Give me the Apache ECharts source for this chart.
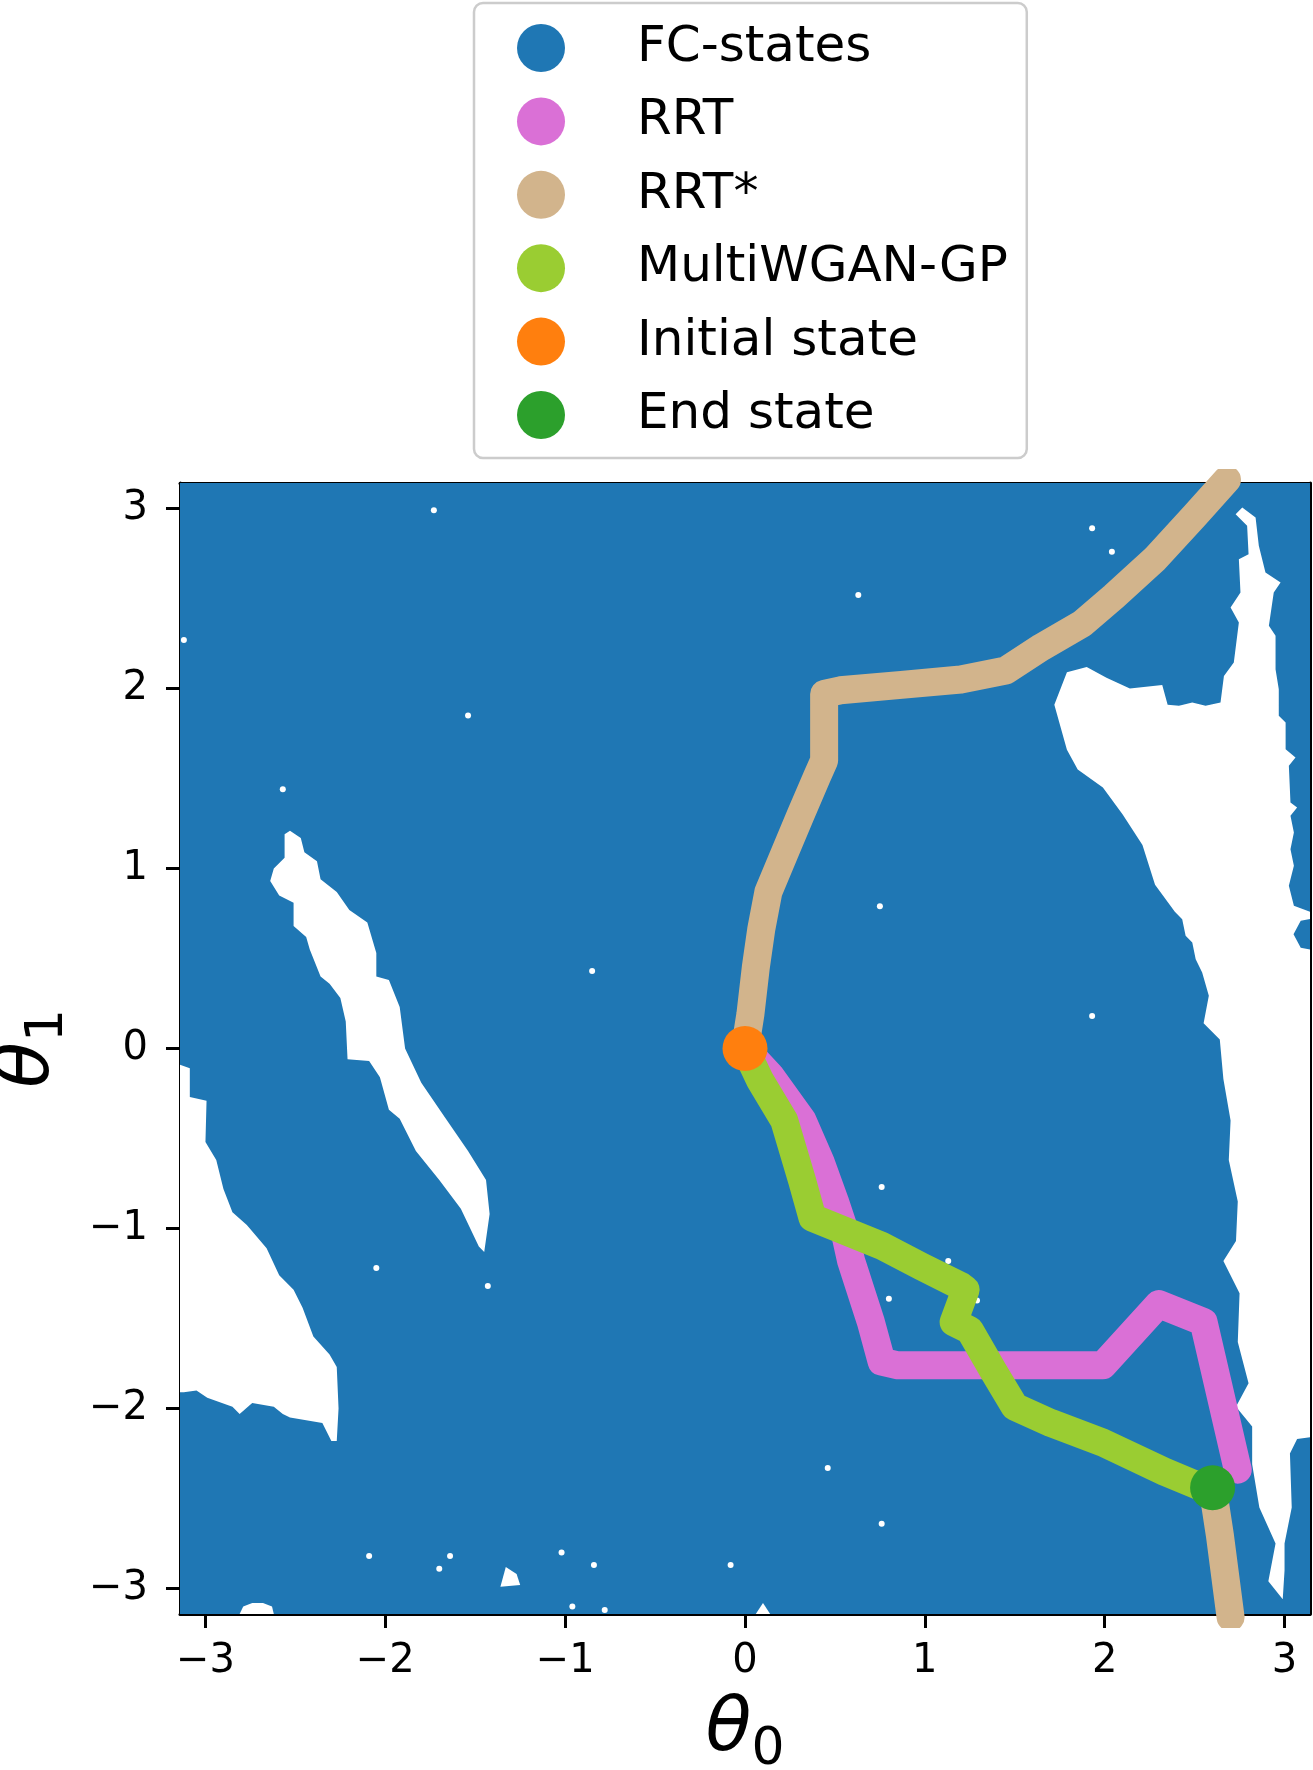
<!DOCTYPE html>
<html>
<head>
<meta charset="utf-8">
<title>FC-states and planned paths</title>
<script src="https://cdn.jsdelivr.net/npm/echarts@6/dist/echarts.min.js"></script>
<style>
  html, body { margin: 0; padding: 0; background: #fff; }
  #chart { width: 1313px; height: 1770px; }
</style>
</head>
<body>
<div id="chart"></div>
<script>
const PI = Math.PI;
const tickValues = [-3, -2, -1, 0, 1, 2, 3];

// planned paths, points are [theta0, theta1]
const rrtPath = [
  [0, 0], [0.14, -0.15], [0.32, -0.40], [0.42, -0.63], [0.50, -0.85], [0.55, -1.0],
  [0.59, -1.18], [0.70, -1.52], [0.76, -1.74], [0.85, -1.76], [1.99, -1.76],
  [2.30, -1.42], [2.55, -1.52], [2.74, -2.34]
];
const rrtStarPath = [
  [0, 0], [0.03, 0.19], [0.06, 0.45], [0.09, 0.66], [0.13, 0.87], [0.22, 1.085],
  [0.31, 1.30], [0.40, 1.51], [0.44, 1.60], [0.44, 1.97], [0.53, 1.99], [0.87, 2.02],
  [1.20, 2.05], [1.45, 2.10], [1.65, 2.23], [1.875, 2.36], [2.05, 2.51], [2.28, 2.72],
  [2.50, 2.96], [2.68, 3.16]
];
// RRT* wraps around theta1 = pi and comes in from the bottom
const rrtStarWrap = [[2.60, -2.44], [2.64, -2.70], [2.70, -3.16]];
const ganPath = [
  [0, 0], [0.083, -0.175], [0.218, -0.40], [0.318, -0.736], [0.375, -0.94],
  [0.756, -1.094], [0.98, -1.21], [1.20, -1.32], [1.227, -1.34], [1.16, -1.52],
  [1.25, -1.565], [1.38, -1.79], [1.50, -1.99], [1.70, -2.08], [1.99, -2.19],
  [2.33, -2.35], [2.595, -2.46]
];
const initialState = [[0, 0]];
const endState = [[2.6, -2.44]];

// FC-states cover the whole square except these white holes
const fcArea = [[-PI, -PI], [PI, -PI], [PI, PI], [-PI, PI]];
const holeRight = [
  [2.765, 3.006], [2.728, 2.968], [2.792, 2.904], [2.80, 2.746], [2.746, 2.718],
  [2.755, 2.533], [2.70, 2.45], [2.746, 2.367], [2.718, 2.144], [2.663, 2.07],
  [2.644, 1.922], [2.561, 1.904], [2.487, 1.922], [2.413, 1.904], [2.35, 1.91],
  [2.32, 2.02], [2.14, 2.0], [2.01, 2.06], [1.90, 2.12], [1.79, 2.09], [1.72, 1.91],
  [1.79, 1.66], [1.85, 1.55], [1.99, 1.45], [2.10, 1.30], [2.21, 1.13], [2.28, 0.91],
  [2.39, 0.76], [2.431, 0.718], [2.45, 0.626], [2.487, 0.589], [2.506, 0.496],
  [2.542, 0.422], [2.579, 0.293], [2.55, 0.14], [2.64, 0.05], [2.66, -0.17],
  [2.70, -0.40], [2.69, -0.62], [2.74, -0.85], [2.73, -1.07], [2.66, -1.18],
  [2.75, -1.36], [2.74, -1.63], [2.80, -1.86], [2.73, -1.99], [2.82, -2.10],
  [2.82, -2.31], [2.86, -2.55], [2.95, -2.75], [2.91, -2.96], [2.99, -3.06],
  [3.0, -2.9], [3.0, -2.75], [3.04, -2.55], [3.03, -2.25], [3.07, -2.17], [PI, -2.16],
  [PI, 0.55], [3.09, 0.56], [3.05, 0.635], [3.09, 0.71], [PI, 0.72], [PI, 0.76],
  [3.052, 0.793], [3.024, 0.904], [3.052, 1.015], [3.033, 1.107], [3.052, 1.20],
  [3.033, 1.293], [3.07, 1.339], [3.033, 1.367], [3.024, 1.571], [3.061, 1.617],
  [3.006, 1.663], [3.006, 1.811], [2.968, 1.848], [2.968, 1.996], [2.95, 2.107],
  [2.95, 2.293], [2.913, 2.348], [2.94, 2.533], [2.978, 2.589], [2.894, 2.644],
  [2.857, 2.793], [2.839, 2.95]
];
const holeLeft = [
  [-PI, -0.09], [-3.087, -0.11], [-3.087, -0.27], [-2.994, -0.29], [-3.0, -0.52],
  [-2.94, -0.62], [-2.90, -0.78], [-2.85, -0.91], [-2.77, -0.98], [-2.66, -1.11],
  [-2.59, -1.26], [-2.51, -1.34], [-2.46, -1.44], [-2.40, -1.60], [-2.31, -1.70],
  [-2.27, -1.77], [-2.26, -2.00], [-2.27, -2.18], [-2.30, -2.18], [-2.35, -2.08],
  [-2.53, -2.05], [-2.57, -2.03], [-2.62, -1.99], [-2.74, -1.97], [-2.81, -2.03],
  [-2.85, -1.99], [-2.99, -1.94], [-3.05, -1.90], [-3.12, -1.91], [-PI, -1.91]
];
const holeSliver = [
  [-2.53, 1.21], [-2.56, 1.19], [-2.56, 1.06], [-2.62, 1.0], [-2.64, 0.93],
  [-2.59, 0.85], [-2.51, 0.81], [-2.51, 0.68], [-2.44, 0.62], [-2.42, 0.55],
  [-2.36, 0.40], [-2.31, 0.36], [-2.25, 0.28], [-2.22, 0.15], [-2.21, -0.06],
  [-2.09, -0.07], [-2.03, -0.16], [-1.98, -0.34], [-1.92, -0.39], [-1.83, -0.57],
  [-1.70, -0.73], [-1.58, -0.89], [-1.48, -1.10], [-1.45, -1.13], [-1.42, -0.92],
  [-1.44, -0.73], [-1.54, -0.57], [-1.67, -0.38], [-1.80, -0.19], [-1.89, 0.0],
  [-1.92, 0.23], [-1.98, 0.38], [-2.05, 0.40], [-2.05, 0.53], [-2.10, 0.70],
  [-2.20, 0.77], [-2.27, 0.87], [-2.36, 0.94], [-2.38, 1.04], [-2.45, 1.09],
  [-2.47, 1.17]
];
const holeBottomLeft = [
  [-2.81, -PI], [-2.79, -3.10], [-2.74, -3.08], [-2.68, -3.08], [-2.63, -3.10], [-2.62, -PI]
];
const holeBottomMid = [[-1.33, -2.88], [-1.36, -2.99], [-1.25, -2.98], [-1.27, -2.92]];
const holeBottomRight = [[0.06, -PI], [0.10, -3.08], [0.14, -PI]];
const holes = [holeRight, holeLeft, holeSliver, holeBottomLeft, holeBottomMid, holeBottomRight];

// tiny white specks inside the FC-states cover
const specks = [
  [-2.57, 1.44], [-3.12, 2.27], [-1.73, 2.99], [-1.54, 1.85], [0.63, 2.52], [1.93, 2.89],
  [2.04, 2.76], [0.75, 0.79], [1.93, 0.18], [0.76, -0.77], [1.13, -1.18], [1.29, -1.40],
  [0.80, -1.39], [0.46, -2.33], [0.76, -2.64], [-2.05, -1.22], [-2.09, -2.82],
  [-1.64, -2.82], [-1.02, -2.80], [-0.84, -2.87], [-1.70, -2.89], [-0.08, -2.87],
  [-0.96, -3.10], [-0.78, -3.12], [-0.85, 0.43], [-1.43, -1.32]
];

const C_FC = '#1f77b4';
const C_RRT = '#da70d6';
const C_STAR = '#d2b48c';
const C_GAN = '#9acd32';
const C_INIT = '#ff7f0e';
const C_END = '#2ca02c';
const FONT = 'DejaVu Sans';

function tickText(v) {
  return v < 0 ? '\u2212' + (-v) : String(v);
}

function nameRich() {
  return {
    t: { fontSize: 75, fontStyle: 'italic', fontFamily: FONT, color: '#000', lineHeight: 90, verticalAlign: 'middle' },
    s: { fontSize: 52, fontFamily: FONT, color: '#000', lineHeight: 48, verticalAlign: 'bottom' }
  };
}

const spine = { show: true, onZero: false, lineStyle: { color: '#000', width: 3 } };

function mainAxis(pos, name, gap, margin) {
  return {
    type: 'value', min: -PI, max: PI, position: pos,
    axisLine: spine,
    axisTick: { show: true, customValues: tickValues, length: 14, lineStyle: { color: '#000', width: 3 } },
    axisLabel: { customValues: tickValues, formatter: tickText, fontSize: 40, fontFamily: FONT, color: '#000', margin: margin },
    splitLine: { show: false },
    name: name, nameLocation: 'middle', nameGap: gap,
    nameTextStyle: { rich: nameRich() }
  };
}

function sideAxis(pos) {
  return {
    type: 'value', min: -PI, max: PI, position: pos,
    axisLine: spine, axisTick: { show: false }, axisLabel: { show: false }, splitLine: { show: false }
  };
}

function lineSeries(name, data, color) {
  return {
    name: name, type: 'line', data: data, symbol: 'none', z: 3,
    lineStyle: { color: color, width: 28, cap: 'round', join: 'round' },
    itemStyle: { color: color }
  };
}

const chart = echarts.init(document.getElementById('chart'), null, { renderer: 'canvas' });

chart.setOption({
  animation: false,
  backgroundColor: '#fff',
  grid: { left: 180, top: 483, width: 1130, height: 1131, containLabel: false, outerBoundsMode: 'none' },
  xAxis: [mainAxis('bottom', '{t|θ}{s|0}', 72, 28), sideAxis('top')],
  yAxis: [mainAxis('left', '{t|θ}{s|1}', 106, 32), sideAxis('right')],
  legend: {
    orient: 'vertical', left: 474, top: 3,
    padding: [20, 19, 18, 43],
    itemWidth: 48, itemHeight: 48, itemGap: 23.4,
    backgroundColor: '#fff', borderColor: '#cccccc', borderWidth: 2.5, borderRadius: 9,
    selectedMode: false,
    itemStyle: { borderWidth: 0, opacity: 1 },
    formatter: name => '{g|\u00a0}{n|' + name + '}',
    textStyle: {
      rich: {
        g: { width: 67, lineHeight: 50, fontSize: 50 },
        n: { fontSize: 50, lineHeight: 50, fontFamily: FONT, color: '#000' }
      }
    },
    data: [
      { name: 'FC-states', icon: 'circle', itemStyle: { color: C_FC } },
      { name: 'RRT', icon: 'circle', itemStyle: { color: C_RRT } },
      { name: 'RRT*', icon: 'circle', itemStyle: { color: C_STAR } },
      { name: 'MultiWGAN-GP', icon: 'circle', itemStyle: { color: C_GAN } },
      { name: 'Initial state', icon: 'circle', itemStyle: { color: C_INIT, opacity: 1 } },
      { name: 'End state', icon: 'circle', itemStyle: { color: C_END, opacity: 1 } }
    ]
  },
  series: [
    {
      name: 'FC-states', type: 'custom', z: 1, clip: true, silent: true,
      itemStyle: { color: C_FC },
      data: [[0, 0]],
      renderItem: (params, api) => ({
        type: 'polygon',
        shape: { points: fcArea.map(p => api.coord(p)) },
        style: { fill: C_FC }
      })
    },
    {
      name: 'holes', type: 'custom', z: 1, clip: true, silent: true,
      data: holes.map(() => [0, 0]),
      renderItem: (params, api) => ({
        type: 'polygon',
        shape: { points: holes[params.dataIndex].map(p => api.coord(p)) },
        style: { fill: '#fff' }
      })
    },
    {
      name: 'specks', type: 'scatter', z: 1, silent: true,
      data: specks, symbolSize: 6, itemStyle: { color: '#fff', opacity: 1 }
    },
    lineSeries('RRT', rrtPath, C_RRT),
    lineSeries('RRT*', rrtStarPath, C_STAR),
    lineSeries('RRT*', rrtStarWrap, C_STAR),
    lineSeries('MultiWGAN-GP', ganPath, C_GAN),
    {
      name: 'Initial state', type: 'scatter', z: 4, data: initialState,
      symbolSize: 45, itemStyle: { color: C_INIT, opacity: 1 }
    },
    {
      name: 'End state', type: 'scatter', z: 4, data: endState,
      symbolSize: 45, itemStyle: { color: C_END, opacity: 1 }
    }
  ]
});
</script>
</body>
</html>
